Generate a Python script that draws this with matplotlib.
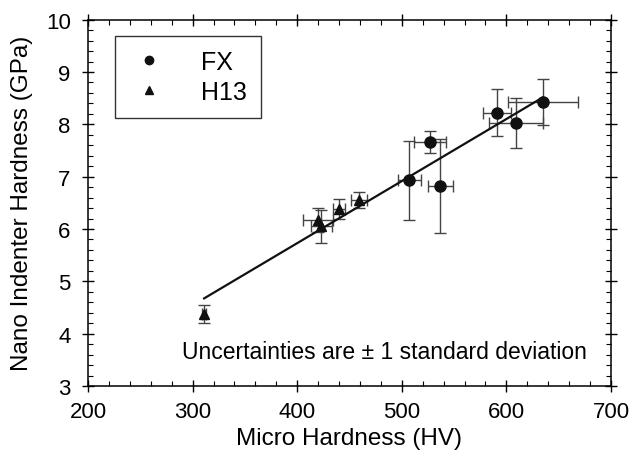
import numpy as np
import matplotlib
matplotlib.use("Agg")
import matplotlib.pyplot as plt
from matplotlib.ticker import MultipleLocator

plt.rcParams.update({
    "font.family": ["Liberation Sans", "DejaVu Sans"],
    "font.size": 17.5,
})

# FX data (circles)
fx_x = [635, 591, 609, 527, 507, 537]
fx_y = [8.42, 8.22, 8.02, 7.66, 6.93, 6.82]
fx_xerr = [33, 13, 26, 15, 11, 12]
fx_yerr = [0.44, 0.45, 0.48, 0.21, 0.75, 0.90]

# H13 data (triangles)
h13_x = [311, 420, 423, 440, 459]
h13_y = [4.37, 6.17, 6.05, 6.38, 6.55]
h13_xerr = [2, 14, 10, 6, 8]
h13_yerr = [0.17, 0.23, 0.32, 0.19, 0.15]

fig = plt.figure(figsize=(6.3, 4.56), dpi=100)
ax = fig.add_axes([0.1397, 0.1513, 0.8301, 0.8033])

ekw = dict(fmt="none", ecolor="#444444", elinewidth=1.0, capsize=4, capthick=1.0, zorder=2)
ax.errorbar(fx_x, fx_y, xerr=fx_xerr, yerr=fx_yerr, **ekw)
ax.errorbar(h13_x, h13_y, xerr=h13_xerr, yerr=h13_yerr, **ekw)

# linear fit through all points
all_x = np.array(fx_x + h13_x, dtype=float)
all_y = np.array(fx_y + h13_y, dtype=float)
slope, intercept = np.polyfit(all_x, all_y, 1)
fit_x = np.array([all_x.min(), all_x.max()])
ax.plot(fit_x, slope * fit_x + intercept, color="#111111", lw=1.6, zorder=3)

ax.plot(fx_x, fx_y, "o", color="#111111", ms=8, ls="none", zorder=4, label="FX")
ax.plot(h13_x, h13_y, "^", color="#111111", ms=7, ls="none", zorder=4, label="H13")

ax.set_xlim(200, 700)
ax.set_ylim(3, 10)
ax.xaxis.set_major_locator(MultipleLocator(100))
ax.xaxis.set_minor_locator(MultipleLocator(20))
ax.yaxis.set_major_locator(MultipleLocator(1))
ax.yaxis.set_minor_locator(MultipleLocator(0.2))
ax.tick_params(which="major", direction="inout", length=9, width=1.0,
               top=True, right=True, labelsize=16)
ax.tick_params(axis="x", which="major", pad=6)
ax.tick_params(axis="y", which="major", pad=8)
ax.tick_params(which="minor", direction="in", length=3.5, width=0.8,
               top=True, right=True)
for s in ax.spines.values():
    s.set_linewidth(1.1)

ax.set_xlabel("Micro Hardness (HV)", fontsize=17.5, labelpad=4)
ax.set_ylabel("Nano Indenter Hardness (GPa)", fontsize=17.5, labelpad=9)

ax.text(0.953, 0.095, "Uncertainties are \u00b1 1 standard deviation",
        transform=ax.transAxes, ha="right", va="center", fontsize=16.5)

leg = ax.legend(loc="upper left", bbox_to_anchor=(0.052, 0.955), fontsize=18,
                frameon=True, fancybox=False, edgecolor="black",
                handletextpad=1.3, borderpad=0.55, labelspacing=0.25,
                handlelength=1.6, borderaxespad=0)
leg.get_frame().set_linewidth(1.0)
for h in leg.legend_handles:
    h.set_markersize(6)

fig.savefig("out.png", dpi=100)
